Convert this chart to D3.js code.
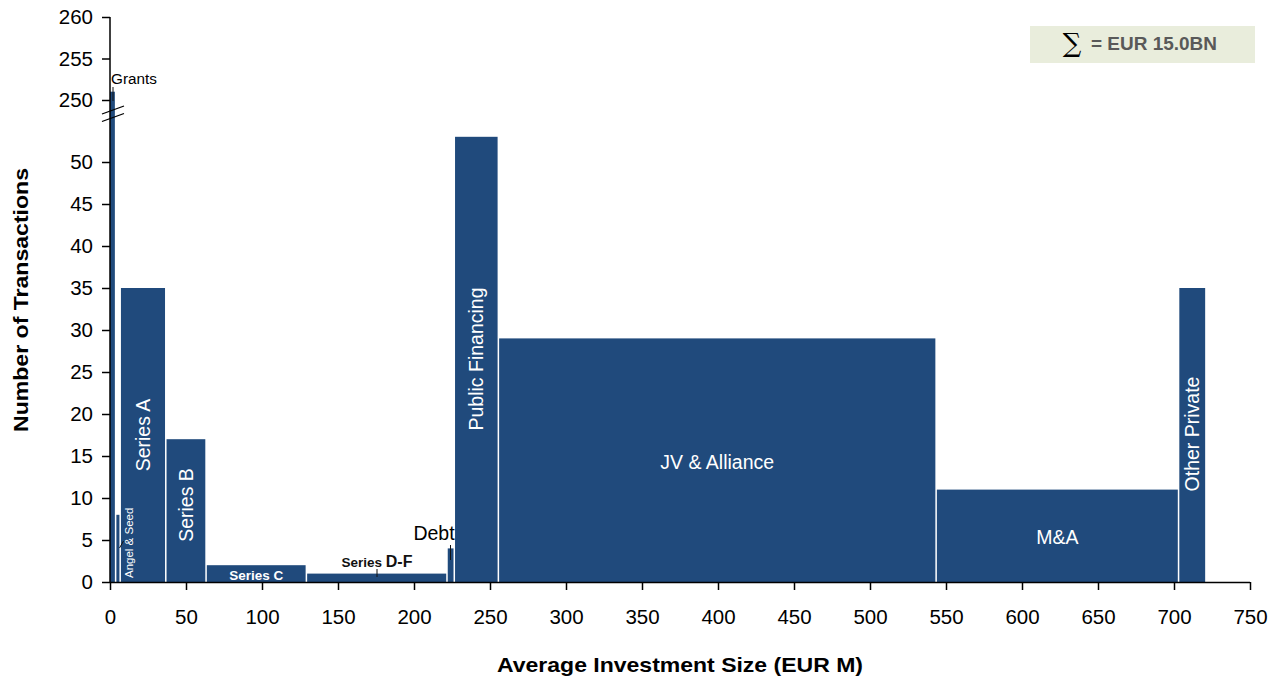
<!DOCTYPE html>
<html>
<head>
<meta charset="utf-8">
<script src="https://cdn.jsdelivr.net/npm/d3@7"></script>
<style>
  html, body { margin: 0; padding: 0; background: #fff; }
  svg { display: block; font-family: "Liberation Sans", Arial, Helvetica, sans-serif; }
</style>
</head>
<body>
<svg id="chart" width="1282" height="681"></svg>
<script>
// Investment types, number of transactions and average investment size (EUR M)
const categories = ["Grants", "Angel & Seed", "Series A", "Series B", "Series C", "Series D-F",
                    "Debt", "Public Financing", "JV & Alliance", "M&A", "Other Private"];
const transactions = [251, 8, 35, 17, 2, 1, 4, 53, 29, 11, 35];
const avgSize = [3.2, 2, 29, 25.5, 65, 91.5, 3.8, 28, 287, 158.5, 17];
const xTicks = [0, 50, 100, 150, 200, 250, 300, 350, 400, 450, 500, 550, 600, 650, 700, 750];
const yTicksLow = [0, 5, 10, 15, 20, 25, 30, 35, 40, 45, 50];
const yTicksHigh = [250, 255, 260];
const totalLabel = "= EUR 15.0BN";

const color = "#204a7c";
const svg = d3.select("#chart");
const x0 = 110, x1 = 1250, yBase = 582;
const tickFont = 20.5;

const x = d3.scaleLinear().domain([0, 750]).range([x0, x1]);
const yLow = d3.scaleLinear().domain([0, 55]).range([yBase, yBase - 55 * 8.4]);
const yHigh = d3.scaleLinear().domain([250, 260]).range([100, 17]);
const yOf = v => v > 55 ? yHigh(v) : yLow(v);

// bars sit side by side, each one average-size wide, with a one-unit gap between them
const gap = 1;
let acc = 0;
const bars = categories.map((c, i) => {
  const b = { name: c, n: transactions[i], start: acc, end: acc + avgSize[i] };
  acc += avgSize[i] + gap;
  return b;
});

svg.append("g").selectAll("rect").data(bars).join("rect")
  .attr("x", d => x(d.start))
  .attr("width", d => x(d.end) - x(d.start))
  .attr("y", d => yOf(d.n))
  .attr("height", d => yBase - yOf(d.n))
  .attr("fill", color);

// axes
const xAxis = d3.axisBottom(x).tickValues(xTicks).tickSize(8).tickPadding(19);
const gx = svg.append("g").attr("transform", `translate(0,${yBase})`).call(xAxis);
gx.select(".domain").attr("d", `M${x0},0.5H${x1}`).attr("stroke", "#000").attr("stroke-width", 1.5);
gx.selectAll(".tick line").attr("stroke", "#000").attr("stroke-width", 1.5);
gx.selectAll(".tick text").attr("font-size", tickFont).attr("fill", "#000")
  .attr("font-family", "Liberation Sans, Arial, sans-serif");

const gyL = svg.append("g").attr("transform", `translate(${x0},0)`)
  .call(d3.axisLeft(yLow).tickValues(yTicksLow).tickSize(8).tickPadding(9));
const gyH = svg.append("g").attr("transform", `translate(${x0},0)`)
  .call(d3.axisLeft(yHigh).tickValues(yTicksHigh).tickSize(8).tickPadding(9));
[gyL, gyH].forEach(g => {
  g.select(".domain").remove();
  g.selectAll(".tick line").attr("stroke", "#000").attr("stroke-width", 1.5);
  g.selectAll(".tick text").attr("font-size", tickFont).attr("fill", "#000")
    .attr("font-family", "Liberation Sans, Arial, sans-serif");
});
svg.append("line").attr("x1", x0).attr("x2", x0).attr("y1", yHigh(260)).attr("y2", yBase + 1)
  .attr("stroke", "#000").attr("stroke-width", 1.5);

// axis break marks
[0, 7.5].forEach(dy => {
  svg.append("line")
    .attr("x1", x0 - 8).attr("y1", 114 + dy).attr("x2", x0 + 14).attr("y2", 106 + dy)
    .attr("stroke", "#000").attr("stroke-width", 1.3);
});

// axis titles
svg.append("text").attr("x", 680).attr("y", 672).attr("text-anchor", "middle")
  .attr("font-size", 21).attr("font-weight", "bold")
  .attr("textLength", 366).attr("lengthAdjust", "spacingAndGlyphs")
  .text("Average Investment Size (EUR M)");
svg.append("text").attr("transform", "translate(28,300) rotate(-90)").attr("text-anchor", "middle")
  .attr("font-size", 20).attr("font-weight", "bold")
  .attr("textLength", 264).attr("lengthAdjust", "spacingAndGlyphs")
  .text("Number of Transactions");

// segment labels
const byName = Object.fromEntries(bars.map(b => [b.name, b]));
const mid = b => x((b.start + b.end) / 2);
const labelFont = 19.5;

function vLabel(b, cy) {
  svg.append("text").attr("transform", `translate(${mid(b)},${cy}) rotate(-90)`)
    .attr("text-anchor", "middle").attr("dominant-baseline", "central")
    .attr("font-size", labelFont).attr("fill", "#fff").text(b.name);
}
vLabel(byName["Series A"], 435);
vLabel(byName["Series B"], 505);
vLabel(byName["Public Financing"], 359);
vLabel(byName["Other Private"], 434);

// Angel & Seed label placed inside the neighbouring bar, with a short leader
svg.append("text").attr("transform", `translate(133,578) rotate(-90)`)
  .attr("text-anchor", "start").attr("font-size", 11.5).attr("fill", "#fff").text("Angel & Seed");
svg.append("line").attr("x1", 119.5).attr("y1", 548).attr("x2", 123.5).attr("y2", 541)
  .attr("stroke", "#111").attr("stroke-width", 1);

svg.append("text").attr("x", mid(byName["JV & Alliance"])).attr("y", 469).attr("text-anchor", "middle")
  .attr("font-size", labelFont).attr("fill", "#fff").text("JV & Alliance");
svg.append("text").attr("x", mid(byName["M&A"])).attr("y", 544).attr("text-anchor", "middle")
  .attr("font-size", labelFont).attr("fill", "#fff").text("M&A");
svg.append("text").attr("x", mid(byName["Series C"])).attr("y", 579.5).attr("text-anchor", "middle")
  .attr("font-size", 13.5).attr("font-weight", "bold").attr("fill", "#fff").text("Series C");

// Series D-F label above its bar
const df = svg.append("text").attr("x", 377).attr("y", 567).attr("text-anchor", "middle")
  .attr("font-weight", "bold").attr("fill", "#111");
df.append("tspan").attr("font-size", 13.5).text("Series ");
df.append("tspan").attr("font-size", 16).text("D-F");
svg.append("line").attr("x1", 377).attr("x2", 377).attr("y1", 569).attr("y2", 577)
  .attr("stroke", "#111").attr("stroke-width", 1);

// Debt label
svg.append("text").attr("x", 434).attr("y", 540).attr("text-anchor", "middle")
  .attr("font-size", 19.5).attr("fill", "#000").text("Debt");
svg.append("line").attr("x1", 450.5).attr("x2", 450.5).attr("y1", 545).attr("y2", 560)
  .attr("stroke", "#111").attr("stroke-width", 1);

// Grants label
svg.append("text").attr("x", 111).attr("y", 84).attr("font-size", 15.3).attr("fill", "#000").text("Grants");
svg.append("line").attr("x1", 113).attr("x2", 113).attr("y1", 87).attr("y2", 101)
  .attr("stroke", "#111").attr("stroke-width", 1);

// total box
svg.append("rect").attr("x", 1030).attr("y", 26).attr("width", 225).attr("height", 37).attr("fill", "#e9eddc");
svg.append("text").attr("x", 1072).attr("y", 52).attr("text-anchor", "middle")
  .attr("font-family", "DejaVu Serif, Liberation Serif, serif").attr("font-size", 26).attr("fill", "#000").text("∑");
svg.append("text").attr("x", 1091).attr("y", 50).attr("font-size", 18).attr("font-weight", "bold")
  .attr("fill", "#595959").attr("textLength", 126).attr("lengthAdjust", "spacingAndGlyphs")
  .text(totalLabel);
</script>
</body>
</html>
